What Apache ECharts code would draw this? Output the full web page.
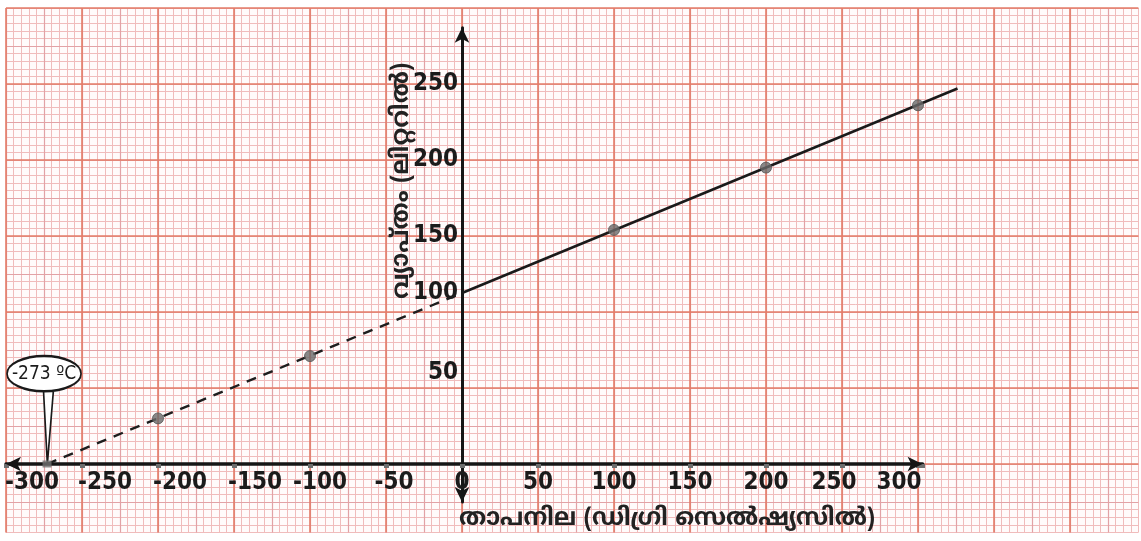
<!DOCTYPE html>
<html><head><meta charset="utf-8">
<script src="https://cdn.jsdelivr.net/npm/echarts@6/dist/echarts.min.js"></script>
<style>html,body{margin:0;padding:0;background:#fff}#c{width:1141px;height:541px}</style>
</head><body><div id="c"></div>
<script>
// ---- data ----
const xTickLabels = ['-300','-250','-200','-150','-100','-50','0','50','100','150','200','250','300'];
const yTickLabels = ['50','100','150','200','250'];
const temps   = [-200, -100, 100, 200, 300];
const volumes = [30, 71, 154, 195, 236];
const absZero = [-273, 0];
const extrapolatedT = [-273, 0];
const extrapolatedV = [0, 112.5];
const measuredT = [0, 326];
const measuredV = [112.5, 247];
const xName = 'താപനില (ഡിഗ്രി സെൽഷ്യസിൽ)';
const yName = 'വ്യാപ്തം (ലിറ്ററിൽ)';
const calloutText = '-273 ºC';

// ---- styling ----
const numFont = "'Liberation Sans Narrow','DejaVu Sans Condensed',Arial,sans-serif";
const mlFont = "'Noto Sans Malayalam','Noto Serif Malayalam','Manjari','Meera','Rachana','Lohit Malayalam','AnjaliOldLipi','Noto Sans',sans-serif";
const MINOR = '#f0bcbc', MID = '#e2a2a6', MAJOR = '#e47c68';

function paperX(interval, color, width, z) {
  return { type:'value', gridIndex:0, min:-300, max:445, interval, z, position:'bottom',
    axisLine:{show:false}, axisTick:{show:false}, axisLabel:{show:false},
    splitLine:{show:true, showMaxLine: interval === 5, lineStyle:{color, width}} };
}
function paperY(min, max, inverse, interval, color, width, z) {
  return { type:'value', gridIndex:0, min, max, inverse, interval, z, position:'left',
    axisLine:{show:false}, axisTick:{show:false}, axisLabel:{show:false},
    splitLine:{show:true, showMaxLine: interval === 5, lineStyle:{color, width}} };
}
function hidden(gridIndex, min, max) {
  return { type:'value', gridIndex, min, max, show:false, splitLine:{show:false} };
}

// horizontal shifts (px) of the hand-written x labels relative to their ticks
const xShift = {'-300':26,'-250':23,'-200':22,'-150':21,'-100':10,'-50':8,'250':-8,'300':-19};
const yLift  = {'100':19,'50':15};
const xRich = {}, yRich = {};
const baseNum = {fontFamily:numFont, fontSize:24, fontWeight:'bold', color:'#1b1b1b'};
Object.keys(xShift).forEach((k,i)=>{
  const s = xShift[k];
  xRich['s'+i] = Object.assign({}, baseNum, {padding: s>0 ? [0,0,0,2*s] : [0,-2*s,0,0]});
});
Object.keys(yLift).forEach((k,i)=>{
  yRich['u'+i] = Object.assign({}, baseNum, {padding:[0,0,2*yLift[k],0]});
});

const chart = echarts.init(document.getElementById('c'));
chart.setOption({
  backgroundColor:'#ffffff',
  animation:false,
  grid:[
    {left:6, top:8, width:1132.4, height:524.4, show:true, backgroundColor:'#fffbfb', borderWidth:0, containLabel:false, outerBoundsMode:'none'},
    {left:6, top:27.76, width:916.56, height:436.24, containLabel:false, outerBoundsMode:'none'},
    {left:462, top:27.76, width:100, height:474.24, containLabel:false, outerBoundsMode:'none'}
  ],
  xAxis:[
    paperX(5, MINOR, 1, 0),
    paperX(25, MID, 1.2, 1),
    paperX(50, MAJOR, 1.6, 2),
    { type:'value', gridIndex:1, min:-300, max:303, interval:50, z:5, position:'bottom',
      axisLine:{show:true, onZero:false, symbol:['arrow','arrow'], symbolSize:[11,15], lineStyle:{color:'#151515', width:3.5}},
      axisTick:{show:true, length:4, lineStyle:{color:'#6e6e6e', width:5}},
      splitLine:{show:false},
      axisLabel:{show:true, margin:7, fontFamily:numFont, fontSize:24, fontWeight:'bold', color:'#1b1b1b',
        rich:xRich,
        formatter:function(v){
          const s = String(v);
          if (xTickLabels.indexOf(s) < 0) return '';
          const keys = Object.keys(xShift);
          const i = keys.indexOf(s);
          return i >= 0 ? '{s'+i+'|'+s+'}' : s;
        }}
    },
    hidden(2, 0, 100)
  ],
  yAxis:[
    paperY(-45, 300, false, 5, MINOR, 1, 0),
    paperY(-300, 45, true, 25, MID, 1.2, 1),
    paperY(-300, 45, true, 50, MAJOR, 1.6, 2),
    hidden(1, 0, 287),
    { type:'value', gridIndex:2, min:-25, max:287, interval:25, z:5, position:'left',
      axisLine:{show:true, onZero:false, symbol:['arrow','arrow'], symbolSize:[11,15], lineStyle:{color:'#151515', width:3}},
      axisTick:{show:false},
      splitLine:{show:false},
      axisLabel:{show:true, margin:4, fontFamily:numFont, fontSize:24, fontWeight:'bold', color:'#1b1b1b',
        rich:yRich,
        formatter:function(v){
          const s = String(v);
          if (yTickLabels.indexOf(s) < 0) return '';
          const keys = Object.keys(yLift);
          const i = keys.indexOf(s);
          return i >= 0 ? '{u'+i+'|'+s+'}' : s;
        }}
    }
  ],
  graphic:[
    {type:'text', x:667, y:520, z:20, style:{text:xName, font:"bold 24px "+mlFont, fill:'#222', align:'center', verticalAlign:'middle'}},
    {type:'text', x:403, y:181, rotation:Math.PI/2, z:20, style:{text:yName, font:"bold 24px "+mlFont, fill:'#222', align:'center', verticalAlign:'middle'}}
  ],
  series:[
    { name:'extrapolated', type:'line', xAxisIndex:0, yAxisIndex:0, z:10, symbol:'none',
      data: extrapolatedT.map((t,i)=>[t, extrapolatedV[i]]),
      lineStyle:{color:'#1e1e1e', width:2.4, type:[10,8]} },
    { name:'measured', type:'line', xAxisIndex:0, yAxisIndex:0, z:10, symbol:'none',
      data: measuredT.map((t,i)=>[t, measuredV[i]]),
      lineStyle:{color:'#1a1a1a', width:2.6} },
    { name:'points', type:'scatter', xAxisIndex:0, yAxisIndex:0, z:11, symbol:'circle', symbolSize:11,
      data: temps.map((t,i)=>[t, volumes[i]]),
      itemStyle:{color:'#6a6a6a', borderColor:'#555', borderWidth:1} },
    { name:'absolute zero', type:'scatter', xAxisIndex:0, yAxisIndex:0, z:11, symbol:'rect', symbolSize:[9,7],
      data:[absZero], itemStyle:{color:'#707070'},
      markPoint:{
        symbol:'path://M0,17.5 A33.5,17.5 0 1,1 67,17.5 A33.5,17.5 0 1,1 0,17.5 Z M33,34 L36.5,107 L42,34',
        symbolSize:[74,108], symbolOffset:[-3,-54], symbolKeepAspect:false,
        itemStyle:{color:'#ffffff', borderColor:'#1a1a1a', borderWidth:2},
        label:{show:true, position:'inside', offset:[0,-36], formatter:calloutText,
          fontFamily:numFont, fontSize:19, color:'#1b1b1b'},
        data:[{coord:absZero}]
      } }
  ]
});
</script></body></html>
